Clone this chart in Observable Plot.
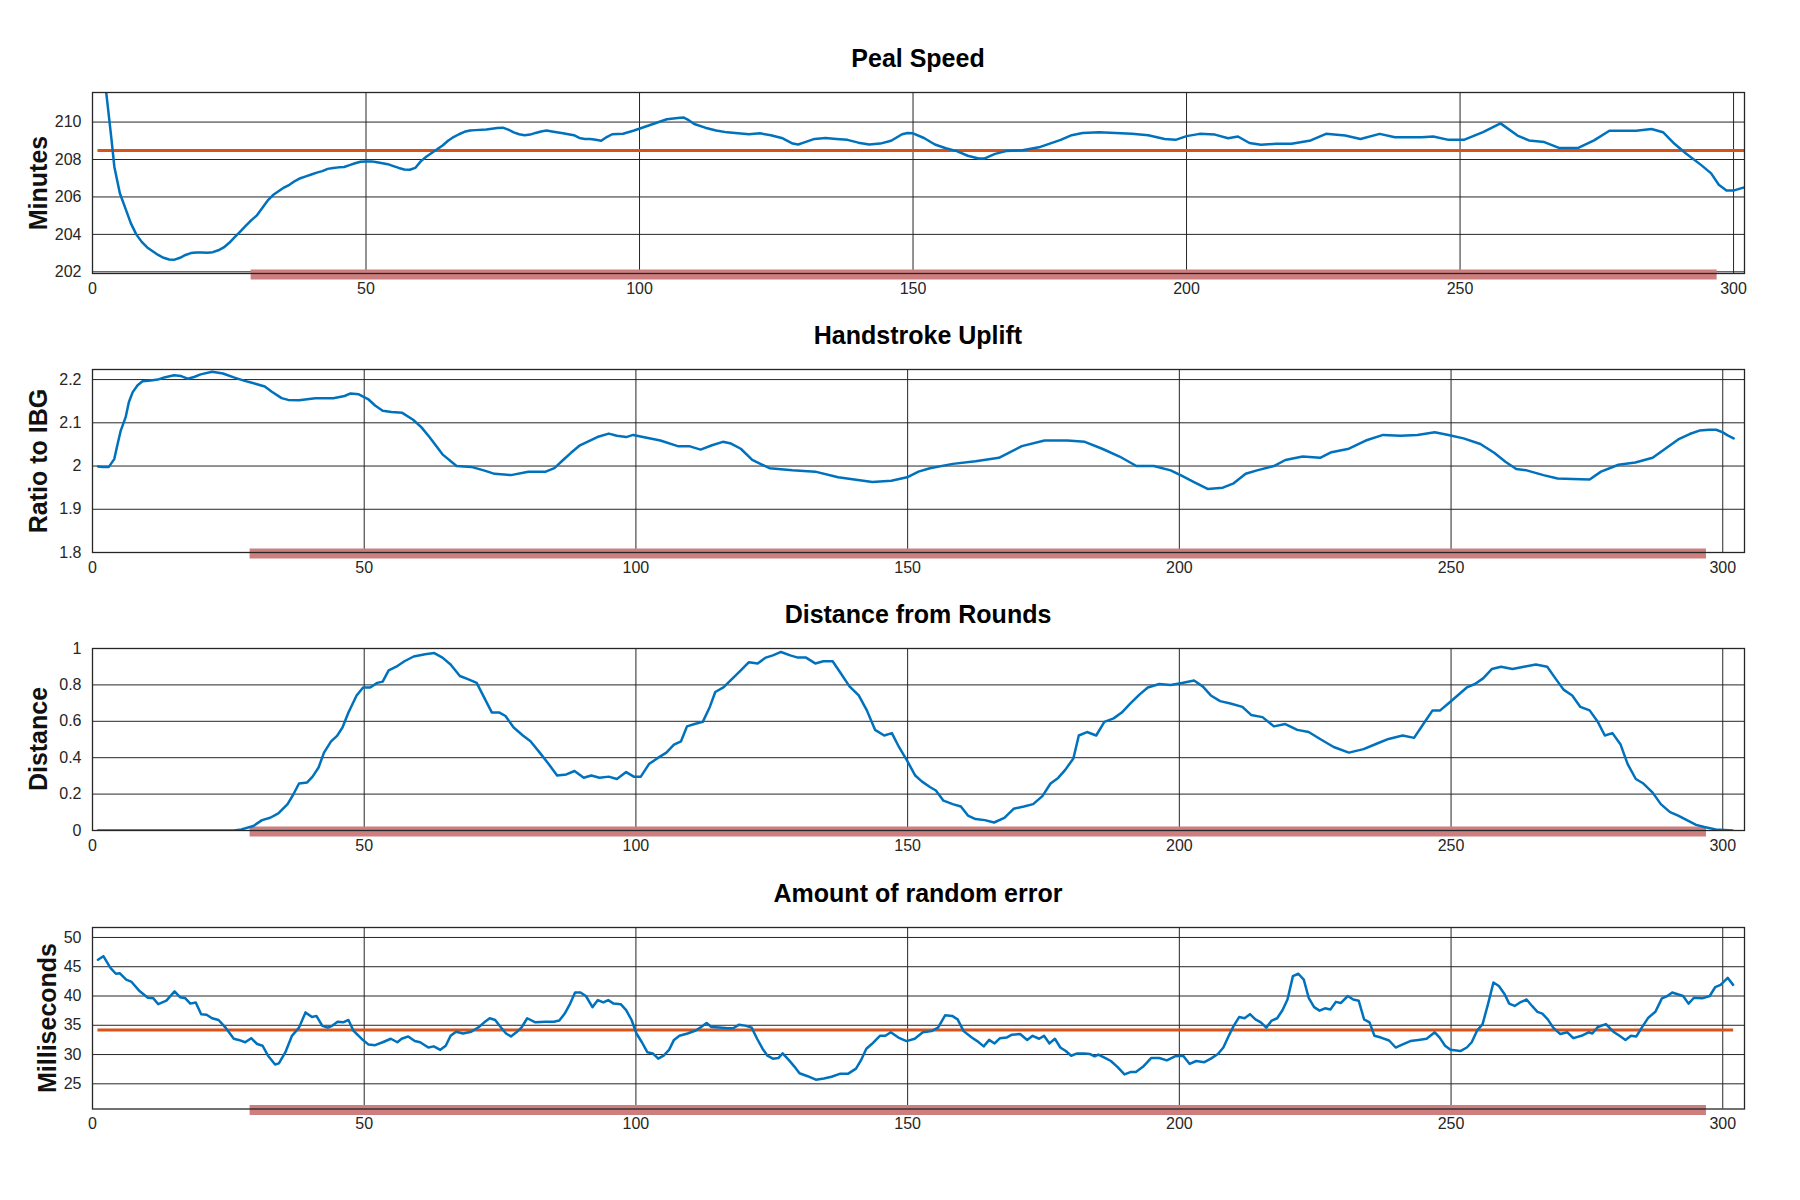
<!DOCTYPE html>
<html><head><meta charset="utf-8">
<script src="https://cdn.jsdelivr.net/npm/d3@7"></script>
<script src="https://cdn.jsdelivr.net/npm/@observablehq/plot@0.6"></script>
<style>
body{margin:0;background:#fff;font-family:"Liberation Sans",Arial,sans-serif;}
#root{position:relative;width:1800px;height:1200px;overflow:hidden;background:#fff;}
.panel{position:absolute;left:0;}
.title{position:absolute;left:92px;width:1652px;text-align:center;font-weight:bold;font-size:25px;line-height:25px;color:#000;white-space:nowrap;}
.ylab{position:absolute;font-weight:bold;font-size:25px;line-height:25px;color:#111;white-space:nowrap;transform:translate(-50%,-50%) rotate(-90deg);}
</style></head>
<body><div id="root"></div>
<script>
// ---------- data ----------
const titles = ["Peal Speed", "Handstroke Uplift", "Distance from Rounds", "Amount of random error"];
const yLabels = ["Minutes", "Ratio to IBG", "Distance", "Milliseconds"];
const xTicks = [0, 50, 100, 150, 200, 250, 300];
const yTicksPeal = [202, 204, 206, 208, 210];
const yTicksUplift = [1.8, 1.9, 2.0, 2.1, 2.2];
const yTicksDistance = [0, 0.2, 0.4, 0.6, 0.8, 1];
const yTicksError = [25, 30, 35, 40, 45, 50];
const activeRange = [29, 297];           // shaded bar along the bottom axis
const meanSpan = [1, 302];
const pealMean = 208.48;
const errorMean = 34.2;

const pealSpeed = [[1,216.0],[2,212.9],[3,210.3],[3.5,209.0],[4,207.6],[5,206.2],[6,205.4],[7,204.6],[8,204.0],[9,203.6],[10,203.3],[11,203.1],[12,202.9],[13,202.75],[14,202.66],[15,202.65],[16,202.75],[17,202.9],[18,203.0],[19,203.03],[20,203.03],[21,203.02],[22,203.05],[23,203.15],[24,203.3],[25,203.55],[26,203.85],[27,204.15],[28,204.45],[29,204.75],[30,205.0],[31,205.4],[32,205.8],[33,206.1],[34,206.3],[35,206.5],[36,206.65],[37,206.85],[38,207.0],[39,207.1],[40,207.2],[41,207.3],[42,207.38],[43,207.5],[44,207.55],[45,207.58],[46,207.6],[47,207.7],[48,207.8],[49,207.88],[50,207.9],[51,207.9],[52,207.85],[53,207.8],[54,207.75],[55,207.65],[56,207.55],[57,207.47],[58,207.45],[59,207.55],[60,207.9],[61,208.15],[62,208.35],[63,208.55],[64,208.75],[65,209.0],[66,209.2],[67,209.35],[68,209.48],[69,209.55],[70,209.57],[72,209.6],[74,209.68],[75,209.7],[76,209.6],[77,209.45],[78,209.35],[79,209.3],[80,209.33],[81,209.42],[82,209.5],[83,209.55],[84,209.5],[86,209.4],[88,209.3],[89,209.15],[90,209.1],[91,209.1],[92,209.05],[93,209.0],[94,209.2],[95,209.35],[97,209.38],[99,209.55],[101,209.75],[103,209.95],[105,210.15],[107,210.22],[108,210.25],[109,210.1],[110,209.9],[112,209.7],[114,209.55],[116,209.45],[118,209.4],[120,209.35],[122,209.4],[124,209.3],[126,209.15],[128,208.85],[129,208.8],[130,208.9],[132,209.1],[134,209.15],[136,209.1],[138,209.05],[140,208.9],[142,208.8],[144,208.85],[146,209.0],[148,209.35],[149,209.42],[150,209.4],[152,209.15],[154,208.8],[156,208.6],[158,208.45],[160,208.2],[162,208.05],[163,208.05],[165,208.3],[167,208.45],[170,208.5],[173,208.65],[175,208.85],[177,209.05],[179,209.3],[181,209.42],[184,209.45],[187,209.42],[190,209.38],[193,209.3],[196,209.1],[198,209.05],[200,209.25],[202.4,209.37],[205.2,209.33],[207.6,209.14],[209.4,209.23],[211.5,208.88],[213.6,208.79],[216.4,208.84],[219.2,208.84],[222.7,209.02],[225.5,209.37],[229,209.28],[231.8,209.1],[235.3,209.37],[238.1,209.19],[243,209.19],[245.1,209.23],[247.9,209.05],[250.7,209.05],[254.2,209.46],[257.4,209.93],[260.5,209.28],[262.6,209.02],[265.4,208.93],[268.2,208.61],[271.7,208.63],[274.5,209.02],[277.3,209.54],[280.8,209.54],[282.2,209.54],[285,209.63],[287.1,209.46],[289.2,208.84],[291.3,208.32],[294.1,207.7],[295.9,207.26],[297.3,206.65],[298.7,206.35],[300.1,206.35],[301.8,206.5]];

const handstrokeUplift = [[1,1.999],[2,1.998],[3,1.998],[4,2.016],[4.6,2.05],[5.2,2.082],[6.1,2.113],[6.7,2.148],[7.4,2.171],[8.3,2.187],[9.2,2.196],[10.7,2.198],[12,2.2],[13.2,2.205],[15,2.21],[16.3,2.208],[17.5,2.202],[18.7,2.206],[19.9,2.212],[22,2.218],[24,2.214],[26,2.205],[28,2.197],[29.5,2.192],[31.7,2.184],[33,2.172],[34.8,2.157],[36,2.153],[38,2.152],[41,2.157],[44.3,2.157],[46.4,2.162],[47.5,2.168],[49,2.166],[50.7,2.155],[52,2.14],[53.4,2.128],[55,2.125],[57,2.123],[59,2.107],[60.5,2.09],[62,2.067],[64.4,2.027],[67,2.0],[69.7,1.998],[72,1.99],[74,1.982],[77,1.979],[80.2,1.987],[83.4,1.987],[85,1.995],[86.6,2.014],[88,2.03],[89.7,2.048],[92.9,2.067],[95,2.075],[96.5,2.07],[98.2,2.067],[99.5,2.072],[101.3,2.067],[104.5,2.059],[107.7,2.046],[109.8,2.046],[111.9,2.038],[114,2.048],[116,2.056],[117.5,2.052],[119.3,2.04],[121.4,2.014],[124.6,1.995],[128.8,1.99],[133,1.987],[137.2,1.974],[143.5,1.963],[147,1.966],[149.9,1.974],[152,1.987],[154.1,1.995],[158.3,2.005],[162.5,2.011],[166.8,2.019],[171,2.046],[175.2,2.059],[179.4,2.059],[182.6,2.056],[185.8,2.04],[189,2.022],[192.1,2.0],[195.3,2.0],[198.4,1.99],[200.5,1.977],[202.7,1.963],[205.2,1.947],[208,1.95],[210,1.96],[212.2,1.982],[214.3,1.99],[217.4,2.0],[219.5,2.014],[222.7,2.022],[225.9,2.019],[228,2.032],[231.2,2.04],[234.3,2.059],[237.5,2.072],[240.7,2.07],[243.8,2.072],[247,2.078],[249.5,2.072],[252.3,2.064],[255.4,2.051],[258,2.03],[260,2.01],[262,1.993],[263.9,1.99],[267,1.979],[269.6,1.971],[272.3,1.97],[275.5,1.969],[277.6,1.987],[280.8,2.003],[283.9,2.008],[287.1,2.019],[290,2.045],[292,2.063],[293.9,2.074],[295.7,2.082],[297.5,2.084],[298.8,2.084],[300,2.078],[300.9,2.071],[302,2.064]];

const distanceFromRounds = [[1,0],[26,0],[27.4,0.006],[29.6,0.025],[31.2,0.057],[32.7,0.07],[34.2,0.094],[35.9,0.145],[36.9,0.195],[38,0.258],[39.5,0.264],[40.5,0.296],[41.6,0.346],[42.6,0.428],[43.9,0.49],[45,0.52],[46,0.566],[47.1,0.648],[48.6,0.742],[49.8,0.786],[51.1,0.786],[52.4,0.811],[53.4,0.818],[54.5,0.88],[55.9,0.9],[57.4,0.93],[59.1,0.956],[61.2,0.968],[62.9,0.975],[64.4,0.95],[65.9,0.912],[67.6,0.849],[69.2,0.83],[70.7,0.811],[72.2,0.723],[73.5,0.648],[74.9,0.648],[76,0.629],[77.5,0.566],[79.2,0.522],[80.6,0.49],[82.3,0.428],[83.8,0.371],[85.5,0.302],[87.2,0.308],[88.7,0.327],[90.4,0.29],[91.8,0.302],[93.3,0.29],[95,0.296],[96.5,0.283],[98.2,0.321],[99.6,0.296],[100.9,0.296],[102.4,0.365],[103.9,0.396],[105.6,0.428],[107,0.472],[108.3,0.49],[109.4,0.572],[110.8,0.585],[112.3,0.597],[113.6,0.679],[114.6,0.761],[116.1,0.786],[117.8,0.836],[119.3,0.88],[120.8,0.925],[122.4,0.918],[123.9,0.95],[125.2,0.962],[126.7,0.981],[128.4,0.962],[129.8,0.95],[131.3,0.95],[133,0.918],[134.5,0.93],[136.2,0.93],[137.6,0.868],[139.3,0.792],[141,0.742],[142.5,0.66],[144,0.553],[145.7,0.522],[147.1,0.535],[148.4,0.459],[149.9,0.384],[151.4,0.302],[152.6,0.27],[154.1,0.239],[155.2,0.22],[156.6,0.164],[158.3,0.145],[159.8,0.132],[161.1,0.082],[162.5,0.063],[164.2,0.057],[165.9,0.044],[167.8,0.069],[169.5,0.119],[171.4,0.132],[173.1,0.145],[174.8,0.189],[176.3,0.258],[177.7,0.289],[179,0.333],[180.5,0.396],[181.5,0.522],[183,0.541],[184.7,0.522],[186.2,0.597],[187.9,0.616],[189.4,0.648],[191,0.698],[192.7,0.748],[194.2,0.786],[196.3,0.805],[198.4,0.799],[200.5,0.811],[202.7,0.824],[204.3,0.792],[205.8,0.742],[207.5,0.711],[209.4,0.698],[211.6,0.679],[213.2,0.635],[215.3,0.623],[217.4,0.572],[219.5,0.585],[221.7,0.553],[223.8,0.541],[225.9,0.503],[228.4,0.459],[231.2,0.428],[233.9,0.447],[236.4,0.478],[238.5,0.503],[241.1,0.522],[243.2,0.509],[244.9,0.585],[246.6,0.66],[248,0.66],[249.5,0.698],[251.2,0.742],[252.9,0.786],[254.4,0.805],[255.9,0.836],[257.5,0.887],[259.2,0.9],[261.3,0.887],[263.4,0.9],[265.6,0.912],[267.7,0.9],[269.2,0.836],[270.7,0.774],[272.3,0.742],[273.8,0.679],[275.5,0.66],[277,0.597],[278.3,0.522],[279.7,0.535],[281.2,0.472],[282.5,0.365],[284,0.283],[285.4,0.258],[287.1,0.208],[288.6,0.145],[290.3,0.101],[291.8,0.082],[293.4,0.057],[295.1,0.031],[296.6,0.019],[298.7,0.006],[301.8,0]];

const randomError = [[1,46.2],[2,46.8],[3.3,44.8],[4.3,43.8],[5,43.9],[6.2,42.8],[7.2,42.4],[8.7,40.8],[10.2,39.7],[11.2,39.6],[12.1,38.6],[13.6,39.2],[15.1,40.8],[16.1,39.8],[17.1,39.6],[18,38.7],[19,38.9],[20,36.9],[21,36.8],[22,36.2],[23.2,35.9],[24.4,34.7],[26,32.7],[26.9,32.5],[28.1,32.1],[29.2,32.8],[30.3,31.8],[31.3,31.5],[32.3,29.8],[33.6,28.3],[34.3,28.5],[35.5,30.4],[36.7,33.2],[38,34.6],[39.2,37.2],[40.4,36.4],[41.2,36.6],[42.3,34.9],[43.3,34.6],[44.1,34.9],[45.1,35.6],[46.1,35.5],[47.1,35.9],[48,34.1],[49.5,32.7],[50.8,31.7],[52,31.6],[53.4,32.1],[54.9,32.7],[56.1,32.1],[56.9,32.7],[58.1,33.1],[59.3,32.3],[60.3,32.1],[61.8,31.2],[62.8,31.4],[64,30.8],[65,31.5],[65.9,33.2],[66.9,33.9],[68.2,33.6],[69.7,33.9],[71.1,34.7],[72.1,35.5],[73.1,36.2],[74.1,35.9],[75.1,34.7],[76.1,33.6],[77,33.1],[78,33.8],[79,34.7],[80,36.2],[81.5,35.5],[83.4,35.6],[84.9,35.6],[85.9,35.8],[86.9,37.0],[87.9,38.7],[88.8,40.6],[89.8,40.6],[90.8,40.0],[92,38.1],[93,39.3],[94,38.9],[94.9,39.3],[95.9,38.7],[97.2,38.6],[98.2,37.6],[99.2,35.9],[100.1,33.6],[101.1,32.1],[102.1,30.4],[103.1,30.2],[104.1,29.3],[105.1,29.8],[106.1,30.8],[107,32.5],[108,33.2],[109.5,33.6],[111,34.1],[112,34.7],[113,35.4],[113.9,34.7],[115.4,34.6],[116.9,34.5],[117.9,34.5],[119,35.1],[120.3,34.9],[121.3,34.6],[122.3,32.7],[123.3,31.0],[124.2,29.8],[125.2,29.3],[126.2,29.4],[127,30.2],[128.2,29.0],[129.2,27.9],[130.1,26.8],[131.6,26.3],[133.1,25.7],[134.6,25.9],[136,26.2],[137.5,26.7],[139,26.7],[140.5,27.6],[141.4,29.0],[142.4,31.0],[143.4,31.8],[144.9,33.2],[145.9,33.2],[146.9,33.8],[148.3,32.9],[149.8,32.3],[151.3,32.7],[152.8,33.8],[154.4,34.0],[155.6,34.6],[156.9,36.7],[158.2,36.6],[159.2,36.0],[160.3,34.0],[161.8,32.9],[162.8,32.3],[164,31.4],[165,32.5],[166,31.9],[167,32.8],[168.2,32.9],[169.2,33.4],[170.7,33.5],[172,32.5],[173,33.2],[174.2,32.7],[175.1,33.2],[176.1,31.9],[177.1,32.7],[178.1,31.2],[179.1,30.6],[180.1,29.8],[181.2,30.2],[182.5,30.2],[183.5,30.1],[184.4,29.7],[185.1,30.0],[186.4,29.4],[187.4,28.9],[188.6,27.9],[189.9,26.6],[191,27.0],[192,27.0],[193.3,27.9],[194.8,29.4],[196.3,29.4],[197.7,29.0],[199.2,29.7],[200.7,29.8],[201.9,28.4],[203.1,28.9],[204.6,28.7],[205.8,29.3],[207.1,30.1],[208.1,31.2],[209.1,33.2],[210,34.9],[211,36.4],[212,36.2],[213,36.9],[214,36.0],[215,35.5],[216,34.6],[217,35.8],[218,36.2],[219,37.6],[219.9,39.4],[220.9,43.4],[221.9,43.8],[222.9,42.8],[223.8,39.7],[224.8,38.1],[225.8,37.5],[226.8,37.9],[227.8,37.7],[228.8,39.0],[229.7,38.8],[231,40.0],[232,39.4],[233,39.2],[234,36.0],[235,35.5],[235.9,33.2],[237.1,32.9],[238.6,32.4],[239.8,31.2],[241,31.7],[242.5,32.3],[244,32.5],[245.5,32.7],[247,33.8],[247.9,32.9],[248.9,31.5],[249.9,30.8],[251.7,30.6],[252.9,31.2],[253.8,32.1],[254.8,34.1],[255.8,35.2],[256.8,38.6],[257.8,42.3],[258.8,41.7],[259.8,40.4],[260.7,38.7],[261.7,38.3],[262.7,38.9],[263.9,39.4],[264.9,38.3],[265.9,37.3],[266.8,37.0],[267.8,36.0],[268.8,34.6],[270.1,33.5],[271.4,33.8],[272.5,32.8],[274,33.2],[275.3,33.8],[276,33.6],[277,34.7],[278.5,35.2],[280,33.8],[281,33.2],[282.1,32.5],[283.1,33.2],[284.1,33.1],[285.1,34.6],[286.3,36.3],[287.6,37.3],[288.8,39.6],[289.8,40.0],[290.7,40.6],[292.7,40.0],[293.7,38.7],[294.7,39.7],[296.2,39.6],[297.6,40.0],[298.6,41.5],[299.6,41.9],[300.9,43.1],[301.9,41.9]];

// ---------- layout / styles ----------
const BLUE = "#0072BD", ORANGE = "#D95319", PINK = "#CD7F7F", GRID = "#262626";
const panels = [
  {series: pealSpeed, xDomain: [0, 302], yDomain: [201.91, 211.58], yTicks: yTicksPeal, mean: pealMean, top: 92, bottom: 273, labelX: 38, fmt: d => String(d)},
  {series: handstrokeUplift, xDomain: [0, 304], yDomain: [1.8, 2.2233], yTicks: yTicksUplift, mean: null, top: 369, bottom: 552, labelX: 38, fmt: d => String(Math.round(d * 10) / 10)},
  {series: distanceFromRounds, xDomain: [0, 304], yDomain: [0, 1], yTicks: yTicksDistance, mean: null, top: 648, bottom: 830, labelX: 38, fmt: d => String(Math.round(d * 10) / 10)},
  {series: randomError, xDomain: [0, 304], yDomain: [20.7, 51.7], yTicks: yTicksError, mean: errorMean, top: 927, bottom: 1108.5, labelX: 47, fmt: d => String(d)}
];

const root = document.getElementById("root");
const MT = 10, MB = 40;

panels.forEach((p, i) => {
  const data = p.series.map(([x, y]) => ({x, y}));
  const marks = [
    Plot.ruleX(xTicks.filter(t => t > p.xDomain[0] && t < p.xDomain[1]), {stroke: GRID, strokeWidth: 1}),
    Plot.ruleY(p.yTicks.filter(t => t > p.yDomain[0] && t < p.yDomain[1]), {stroke: GRID, strokeWidth: 1}),
    Plot.ruleY([p.yDomain[0]], {x1: activeRange[0], x2: activeRange[1], stroke: PINK, strokeWidth: 10, dy: 1})
  ];
  if (p.mean != null) {
    marks.push(Plot.ruleY([p.mean], {x1: meanSpan[0], x2: meanSpan[1], stroke: ORANGE, strokeWidth: 3}));
  }
  marks.push(Plot.line(data, {x: "x", y: "y", stroke: BLUE, strokeWidth: 2.5, clip: true}));
  marks.push(Plot.frame({stroke: GRID, strokeWidth: 1.3}));

  const chart = Plot.plot({
    width: 1800,
    height: (p.bottom - p.top) + MT + MB,
    marginLeft: 92, marginRight: 56, marginTop: MT, marginBottom: MB,
    style: {fontSize: "16px", fontFamily: '"Liberation Sans", Arial, sans-serif', color: "#262626", background: "transparent", overflow: "visible"},
    x: {domain: p.xDomain, ticks: xTicks, tickSize: 0, tickPadding: 9, tickFormat: d => String(d), label: null},
    y: {domain: p.yDomain, ticks: p.yTicks, tickSize: 0, tickPadding: 11, tickFormat: p.fmt, label: null},
    marks
  });
  const div = document.createElement("div");
  div.className = "panel";
  div.style.top = (p.top - MT) + "px";
  div.appendChild(chart);
  root.appendChild(div);

  const t = document.createElement("div");
  t.className = "title";
  t.textContent = titles[i];
  t.style.top = (p.top - 25 - 21) + "px";
  root.appendChild(t);

  const yl = document.createElement("div");
  yl.className = "ylab";
  yl.textContent = yLabels[i];
  yl.style.left = p.labelX + "px";
  yl.style.top = ((p.top + p.bottom) / 2) + "px";
  root.appendChild(yl);
});
</script>
</body></html>
